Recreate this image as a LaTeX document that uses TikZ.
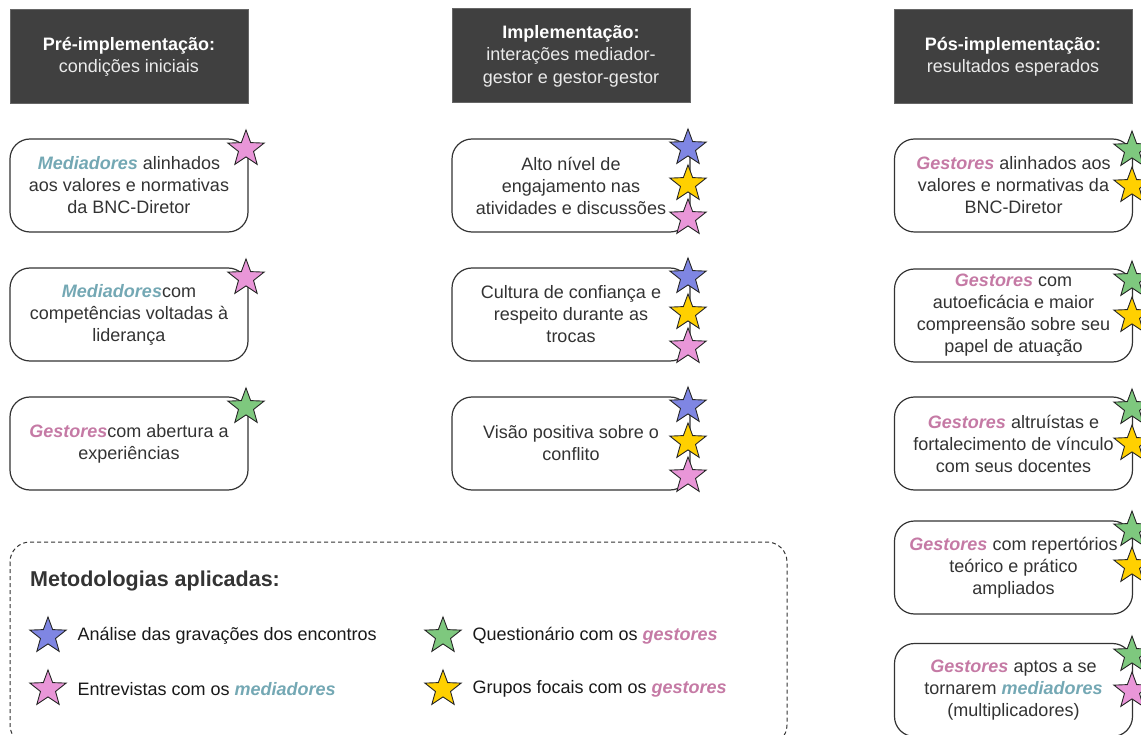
\documentclass[tikz,border=0pt]{standalone}
\usepackage{fontspec}
\setmainfont{Liberation Sans}
\usetikzlibrary{shapes.geometric,positioning,calc}
\definecolor{headfill}{HTML}{404040}
\definecolor{txtcol}{HTML}{333333}
\definecolor{medcol}{HTML}{74A8B4}
\definecolor{gescol}{HTML}{C57AA5}
\definecolor{starblue}{HTML}{7F86E3}
\definecolor{staryellow}{HTML}{FFD000}
\definecolor{starpink}{HTML}{E996D8}
\definecolor{stargreen}{HTML}{7EC87E}
\newcommand{\med}[1]{\textcolor{medcol}{\textbf{\textit{#1}}}}
\newcommand{\ges}[1]{\textcolor{gescol}{\textbf{\textit{#1}}}}
\tikzset{
    x=1pt, y=-1pt,
    head/.style ={rectangle, draw=black!60, fill=headfill, text=white, line width=1pt,
                  minimum width=238pt, minimum height=94pt, align=center,
                  font=\fontsize{18}{22.5}\selectfont},
    box/.style  ={rectangle, rounded corners=20pt, draw=txtcol, line width=1.2pt, text=txtcol,
                  minimum width=238pt, minimum height=93pt, align=center,
                  font=\fontsize{18}{22}\selectfont},
    tag/.style  ={star, star points=5, star point ratio=2.4, draw=black!85, line width=0.9pt,
                  minimum size=38pt, inner sep=0pt},
    blu/.style  ={tag, fill=starblue},
    yel/.style  ={tag, fill=staryellow},
    pnk/.style  ={tag, fill=starpink},
    grn/.style  ={tag, fill=stargreen},
    item/.style ={anchor=west, inner sep=0pt, text=black!90, font=\fontsize{18}{22}\selectfont}
}
\begin{document}
\begin{tikzpicture}
    \useasboundingbox (0,0) rectangle (1141,735);
    \clip (0,0) rectangle (1141,735);

    % column headers
    \node[head] (prehead) at (129,57) {\textbf{Pré-implementação:}\\\color{white!92!black}condições iniciais};
    \node[head] (imphead) at (571,56) {\textbf{Implementação:}\\\color{white!92!black}interações mediador-\\\color{white!92!black}gestor e gestor-gestor};
    \node[head] (poshead) at (1013,57) {\textbf{Pós-implementação:}\\\color{white!92!black}resultados esperados};

    % pre-implementation
    \node[box] (pre1) at (129,185.5) {\med{Mediadores} alinhados\\aos valores e normativas\\da BNC-Diretor};
    \node[box] (pre2) at (129,314.5) {\med{Mediadores}com\\competências voltadas à\\liderança};
    \node[box] (pre3) at (129,443.5) {\ges{Gestores}com abertura a\\experiências};
    \node[pnk] (pre1a) at (246,149) {};
    \node[pnk] (pre2a) at (246,278) {};
    \node[grn] (pre3a) at (246,407) {};

    % implementation
    \node[box] (imp1) at (571,185.5) {Alto nível de\\engajamento nas\\atividades e discussões};
    \node[box] (imp2) at (571,314.5) {Cultura de confiança e\\respeito durante as\\trocas};
    \node[box] (imp3) at (571,443.5) {Visão positiva sobre o\\conflito};
    \foreach \r/\y in {1/148,2/277,3/406} {
        \node[blu] (imp\r a) at (688,\y) {};
        \node[yel] (imp\r b) at (688,\y+36) {};
        \node[pnk] (imp\r c) at (688,\y+70) {};
    }

    % post-implementation
    \node[box] (pos1) at (1013.5,185.5) {\ges{Gestores} alinhados aos\\valores e normativas da\\BNC-Diretor};
    \node[box] (pos2) at (1013.5,315.5) {\ges{Gestores} com\\autoeficácia e maior\\compreensão sobre seu\\papel de atuação};
    \node[box] (pos3) at (1013.5,443.5) {\ges{Gestores} altruístas e\\fortalecimento de vínculo\\com seus docentes};
    \node[box] (pos4) at (1013.5,567.5) {\ges{Gestores} com repertórios\\teórico e prático\\ampliados};
    \node[box] (pos5) at (1013.5,690) {\ges{Gestores} aptos a se\\tornarem \med{mediadores}\\(multiplicadores)};
    \foreach \r/\y in {1/150,2/280,3/408,4/530} {
        \node[grn] (pos\r a) at (1132,\y) {};
        \node[yel] (pos\r b) at (1132,\y+36) {};
    }
    \node[grn] (pos5a) at (1132,655) {};
    \node[pnk] (pos5b) at (1132,691) {};

    % legend
    \draw[txtcol, line width=1pt, dashed, dash pattern=on 4pt off 3pt, rounded corners=20pt]
        (10,542) rectangle (787,745);
    \node[anchor=west, inner sep=0pt, text=txtcol, font=\fontsize{21.5}{26}\selectfont\bfseries] (legtitle) at (30,581) {Metodologias aplicadas:};
    \node[blu] (leg1) at (48,636) {};
    \node[pnk] (leg2) at (48,689) {};
    \node[grn] (leg3) at (443,636) {};
    \node[yel] (leg4) at (443,689) {};
    \node[item, right=18pt of leg1] (leg1t) {Análise das gravações dos encontros};
    \node[item, right=18pt of leg2] (leg2t) {Entrevistas com os \med{mediadores}};
    \node[item, right=18pt of leg3] (leg3t) {Questionário com os \ges{gestores}};
    \node[item, right=18pt of leg4] (leg4t) {Grupos focais com os \ges{gestores}};
\end{tikzpicture}
\end{document}
